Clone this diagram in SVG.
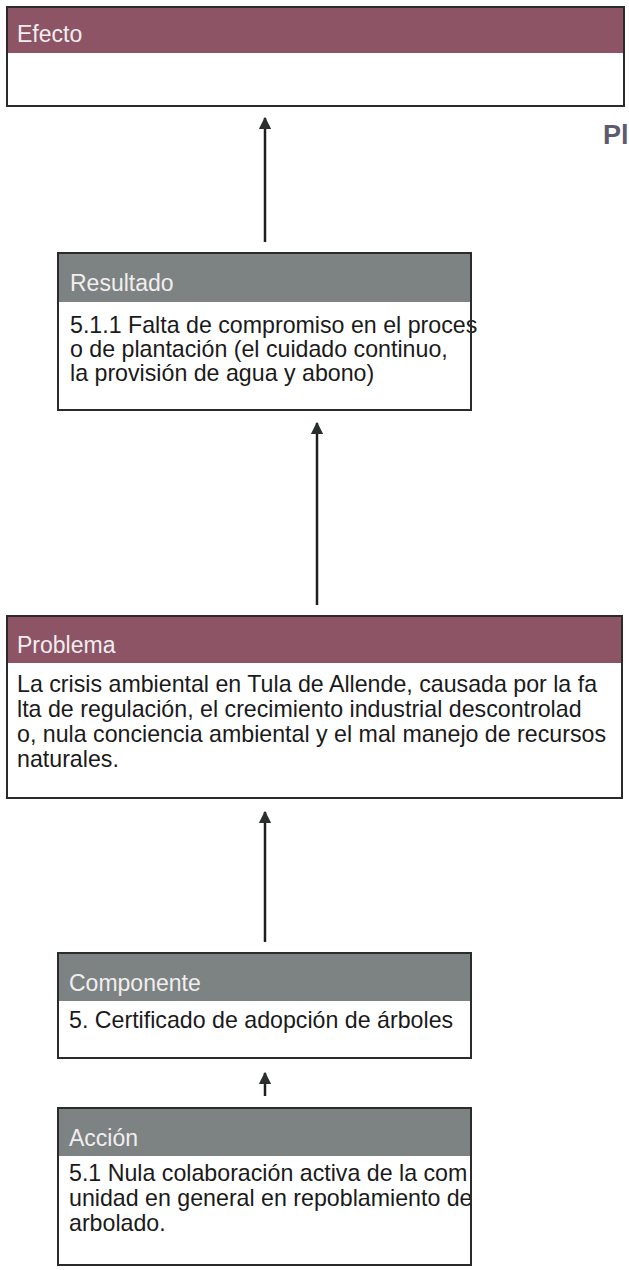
<svg xmlns="http://www.w3.org/2000/svg" width="629" height="1270" viewBox="0 0 629 1270">
<style>
.hdr-m{fill:#8c5465}
.hdr-g{fill:#7d8382}
.body{fill:#ffffff}
.frame{fill:none;stroke:#2b2b2b;stroke-width:2}
.lbl{font-family:"Liberation Sans",Arial,sans-serif;font-size:23px;fill:#f2eef0}
.txt{font-family:"Liberation Sans",Arial,sans-serif;font-size:23.2px;fill:#1a1a1a}
.conn{stroke:#1e1e1e;stroke-width:2.5;fill:none;marker-end:url(#ah)}
</style>
<defs>
<marker id="ah" viewBox="0 0 10 10" refX="9" refY="5" markerWidth="5" markerHeight="5.2" orient="auto" markerUnits="strokeWidth">
<path d="M0,0 L10,5 L0,10 Z" fill="#2a2f2e"/>
</marker>
</defs>
<rect width="629" height="1270" fill="#ffffff"/>
<g id="efecto">
<rect class="body" x="7" y="7" width="617" height="99"/>
<rect class="hdr-m" x="7" y="7" width="617" height="46"/>
<text class="lbl" x="17" y="42">Efecto</text>
<rect class="frame" x="7" y="7" width="617" height="99"/>
</g>
<text x="603" y="144" font-family="Liberation Sans,Arial,sans-serif" font-size="27" font-weight="bold" fill="#5e5a70">Pl</text>
<g id="resultado">
<rect class="body" x="58" y="253" width="413" height="157"/>
<rect class="hdr-g" x="58" y="253" width="413" height="49"/>
<text class="lbl" x="70" y="291">Resultado</text>
<text class="txt" x="70" y="333">5.1.1 Falta de compromiso en el proces</text>
<text class="txt" x="70" y="357">o de plantación (el cuidado continuo,</text>
<text class="txt" x="70" y="381">la provisión de agua y abono)</text>
<rect class="frame" x="58" y="253" width="413" height="157"/>
</g>
<g id="problema">
<rect class="body" x="7" y="616" width="615" height="182"/>
<rect class="hdr-m" x="7" y="616" width="615" height="47"/>
<text class="lbl" x="17" y="653">Problema</text>
<text class="txt" x="17" y="692">La crisis ambiental en Tula de Allende, causada por la fa</text>
<text class="txt" x="17" y="717">lta de regulación, el crecimiento industrial descontrolad</text>
<text class="txt" x="17" y="742">o, nula conciencia ambiental y el mal manejo de recursos</text>
<text class="txt" x="17" y="767">naturales.</text>
<rect class="frame" x="7" y="616" width="615" height="182"/>
</g>
<g id="componente">
<rect class="body" x="58" y="953" width="413" height="105"/>
<rect class="hdr-g" x="58" y="953" width="413" height="48"/>
<text class="lbl" x="69" y="991">Componente</text>
<text class="txt" x="69" y="1028">5. Certificado de adopción de árboles</text>
<rect class="frame" x="58" y="953" width="413" height="105"/>
</g>
<g id="accion">
<rect class="body" x="58" y="1108" width="413" height="157"/>
<rect class="hdr-g" x="58" y="1108" width="413" height="48"/>
<text class="lbl" x="69" y="1146">Acción</text>
<text class="txt" x="69" y="1181">5.1 Nula colaboración activa de la com</text>
<text class="txt" x="69" y="1206">unidad en general en repoblamiento de</text>
<text class="txt" x="69" y="1231">arbolado.</text>
<rect class="frame" x="58" y="1108" width="413" height="157"/>
</g>
<g id="connectors">
<line class="conn" x1="265" y1="242" x2="265" y2="118"/>
<line class="conn" x1="317" y1="605" x2="317" y2="423"/>
<line class="conn" x1="265" y1="942" x2="265" y2="812"/>
<line class="conn" x1="265" y1="1096" x2="265" y2="1073"/>
</g>
</svg>
